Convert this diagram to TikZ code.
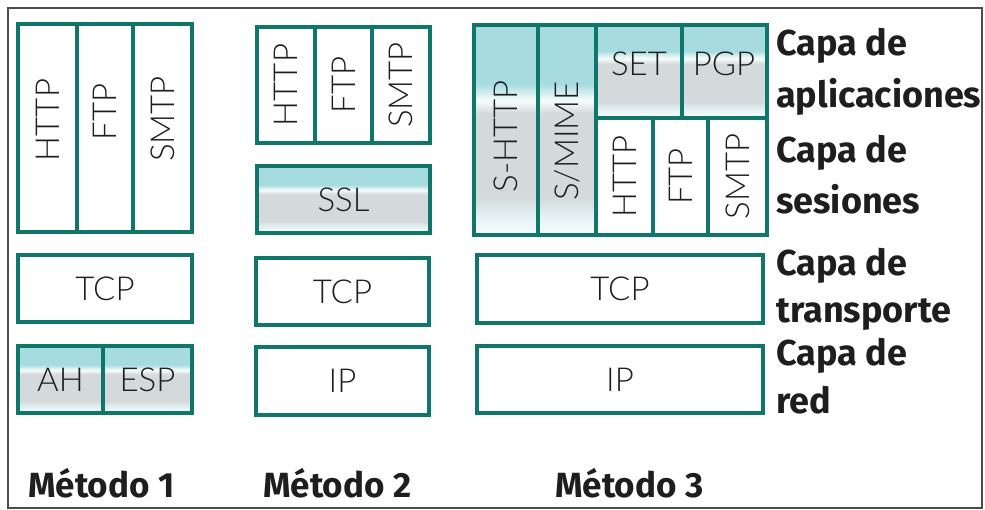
\documentclass[tikz,border=0pt]{standalone}
\usepackage{fontspec}
\setmainfont{Lato}
\newfontfamily\protofont{Lato Light}
\newfontfamily\labelfont{Fira Sans}
\usetikzlibrary{fit}
\definecolor{rim}{HTML}{10766A}
\definecolor{ink}{HTML}{1E1E1E}
\definecolor{shC}{HTML}{A6DCE0}
\definecolor{shG}{HTML}{D4D9DB}
\definecolor{shL}{HTML}{E6F4F5}
\definecolor{shW}{HTML}{F8FCFC}
% cyan top, grey middle, pale bottom
\pgfdeclareverticalshading{secshade}{100bp}{%
  color(0bp)=(shW); color(25bp)=(shW); color(29bp)=(shL);
  color(34bp)=(shG); color(54bp)=(shG); color(57bp)=(shW);
  color(61bp)=(shC); color(75bp)=(shC); color(100bp)=(shC)}
\tikzset{
  cell/.style={draw=rim, line width=3.6pt, inner sep=0pt, fill=white},
  seccell/.style={cell, shading=secshade, shade},
  proto/.style={text=ink, font=\protofont\fontsize{33}{33}\selectfont, inner sep=0pt},
  vproto/.style={proto, rotate=90},
  layer/.style={text=ink, font=\labelfont\bfseries\fontsize{36}{36}\selectfont, anchor=base west, inner sep=0pt},
  method/.style={text=ink, font=\labelfont\bfseries\fontsize{35}{35}\selectfont, anchor=base west, inner sep=0pt},
}
\begin{document}
\begin{tikzpicture}[x=1pt,y=-1pt]
\useasboundingbox (0,0) rectangle (985,509);
% outer frame
\draw[line width=1.2pt, color=black!70] (8,8) rectangle (982,508);

% ---------- Method 1 ----------
\node[cell, fit={(18,24) (77,232)}] (m1http) {};
\node[cell, fit={(77,24) (133,232)}] (m1ftp) {};
\node[cell, fit={(133,24) (192,232)}] (m1smtp) {};
\node[vproto] (t1http) at (47.5,120) {HTTP};
\node[vproto] (t1ftp) at (105,112) {FTP};
\node[vproto] (t1smtp) at (162.5,119) {SMTP};
\node[cell, fit={(18,255) (192,322)}] (m1tcp) {};
\node[proto] (t1tcp) at (m1tcp.center) {TCP};
\node[seccell, fit={(18,346) (103,413)}] (m1ah) {};
\node[seccell, fit={(103,346) (192,413)}] (m1esp) {};
\node[proto] (t1ah) at (m1ah.center) {AH};
\node[proto] (t1esp) at (m1esp.center) {ESP};

% ---------- Method 2 ----------
\node[cell, fit={(257,27) (315,143)}] (m2http) {};
\node[cell, fit={(315,27) (372,143)}] (m2ftp) {};
\node[cell, fit={(372,27) (430,143)}] (m2smtp) {};
\node[vproto] (t2http) at (m2http.center) {HTTP};
\node[vproto] (t2ftp) at (m2ftp.center) {FTP};
\node[vproto] (t2smtp) at (m2smtp.center) {SMTP};
\node[seccell, fit={(257,166) (430,233)}] (m2ssl) {};
\node[proto] (t2ssl) at (m2ssl.center) {SSL};
\node[cell, fit={(256,258) (429,325)}] (m2tcp) {};
\node[proto] (t2tcp) at (m2tcp.center) {TCP};
\node[cell, fit={(256,347) (429,415)}] (m2ip) {};
\node[proto] (t2ip) at (m2ip.center) {IP};

% ---------- Method 3 ----------
\node[seccell, fit={(474,25) (538,235)}] (m3shttp) {};
\node[seccell, fit={(538,25) (596,235)}] (m3smime) {};
\node[seccell, fit={(596,25) (682,118)}] (m3set) {};
\node[seccell, fit={(682,25) (767,118)}] (m3pgp) {};
\node[cell, fit={(596,118) (653,235)}] (m3http) {};
\node[cell, fit={(653,118) (708,235)}] (m3ftp) {};
\node[cell, fit={(708,118) (767,235)}] (m3smtp) {};
\node[vproto] (t3shttp) at (506,136) {S-HTTP};
\node[vproto] (t3smime) at (567,141) {S/MIME};
\node[proto] (t3set) at (639,64) {SET};
\node[proto] (t3pgp) at (724,64) {PGP};
\node[vproto] (t3http) at (m3http.center) {HTTP};
\node[vproto] (t3ftp) at (m3ftp.center) {FTP};
\node[vproto] (t3smtp) at (m3smtp.center) {SMTP};
\node[cell, fit={(477,255) (763,323)}] (m3tcp) {};
\node[proto] (t3tcp) at (m3tcp.center) {TCP};
\node[cell, fit={(477,346) (763,413)}] (m3ip) {};
\node[proto] (t3ip) at (m3ip.center) {IP};

% ---------- layer names ----------
\node[layer] (lapp1) at (776,55) {Capa de};
\node[layer] (lapp2) at (776,107) {aplicaciones};
\node[layer] (lses1) at (776,162) {Capa de};
\node[layer] (lses2) at (776,213) {sesiones};
\node[layer] (ltra1) at (776,275) {Capa de};
\node[layer] (ltra2) at (776,322) {transporte};
\node[layer] (lred1) at (776,365) {Capa de};
\node[layer] (lred2) at (776,413) {red};

% ---------- method captions ----------
\node[method] (cap1) at (28,497) {Método 1};
\node[method] (cap2) at (263,497) {Método 2};
\node[method] (cap3) at (555,497) {Método 3};
\end{tikzpicture}
\end{document}
